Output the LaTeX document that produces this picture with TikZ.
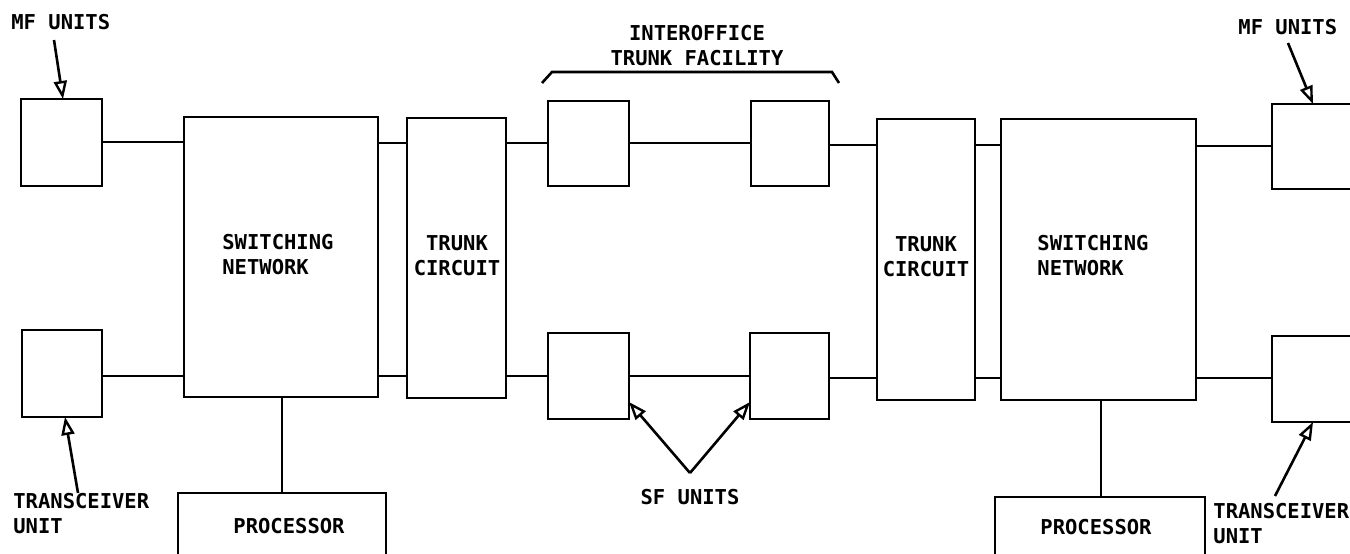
\documentclass[tikz,border=0pt]{standalone}
\usepackage{fontspec}
\newfontfamily\plotfont{DejaVu Sans Mono}
\usetikzlibrary{arrows.meta}
\begin{document}
\begin{tikzpicture}[x=1pt,y=-1pt, line width=2.8pt,
  box/.style={draw, inner sep=0pt, outer sep=0pt, anchor=north west},
  lbl/.style={font=\plotfont\bfseries\fontsize{20.5}{25}\selectfont, inner sep=0pt, align=center},
  lbll/.style={lbl, align=left},
  ptr/.style={-{Triangle[open,length=18pt,width=13pt,line width=2.4pt]}, line width=2.6pt}]
\useasboundingbox (0,0) rectangle (1350,554);
% rows
\coordinate (rowM) at (0,142);
\coordinate (rowA) at (0,143);
\coordinate (rowB) at (0,376);
\coordinate (rowC) at (0,145);
\coordinate (rowD) at (0,378);
% left office
\node[box, minimum width=81pt, minimum height=87pt] (mfL) at (21,99) {};
\node[box, minimum width=80pt, minimum height=87pt] (trL) at (22,330) {};
\node[box, minimum width=194pt, minimum height=280pt] (snL) at (184,117) {};
\node[box, minimum width=99pt, minimum height=280pt] (tcL) at (407,118) {};
\node[box, minimum width=208pt, minimum height=90pt] (prL) at (178,493) {};
% trunk facility SF units
\node[box, minimum width=81pt, minimum height=85pt] (sfA) at (548,101) {};
\node[box, minimum width=78pt, minimum height=85pt] (sfB) at (751,101) {};
\node[box, minimum width=81pt, minimum height=86pt] (sfC) at (548,333) {};
\node[box, minimum width=79pt, minimum height=86pt] (sfD) at (750,333) {};
% right office
\node[box, minimum width=98pt, minimum height=281pt] (tcR) at (877,119) {};
\node[box, minimum width=195pt, minimum height=281pt] (snR) at (1001,119) {};
\node[box, minimum width=100pt, minimum height=85pt] (mfR) at (1272,104) {};
\node[box, minimum width=100pt, minimum height=86pt] (trR) at (1272,336) {};
\node[box, minimum width=210pt, minimum height=90pt] (prR) at (995,497) {};
% texts
\node[lbll, anchor=west] (tSNL) at (221,255) {SWITCHING\\NETWORK};
\node[lbl] (tTCL) at (457,256) {TRUNK\\CIRCUIT};
\node[lbl] (tPRL) at (289,526) {PROCESSOR};
\node[lbl] (tTCR) at (926,257) {TRUNK\\CIRCUIT};
\node[lbll, anchor=west] (tSNR) at (1036,256) {SWITCHING\\NETWORK};
\node[lbl] (tPRR) at (1096,527) {PROCESSOR};
\node[lbl, anchor=west] (tMFL) at (10,22) {MF UNITS};
\node[lbll, anchor=west] (tTRL) at (12,514) {TRANSCEIVER\\UNIT};
\node[lbl] (tIO) at (697,46) {INTEROFFICE\\TRUNK FACILITY};
\node[lbl] (tSF) at (690,497) {SF UNITS};
\node[lbl, anchor=west] (tMFR) at (1237,27) {MF UNITS};
\node[lbll, anchor=west] (tTRR) at (1212,524) {TRANSCEIVER\\UNIT};
% connections
\draw (mfL.east |- rowM) -- (snL.west |- rowM);
\draw (trL.east |- rowB) -- (snL.west |- rowB);
\draw (snL.east |- rowA) -- (tcL.west |- rowA);
\draw (snL.east |- rowB) -- (tcL.west |- rowB);
\draw (tcL.east |- rowA) -- (sfA.west |- rowA);
\draw (sfA.east |- rowA) -- (sfB.west |- rowA);
\draw (sfB.east |- rowC) -- (tcR.west |- rowC);
\draw (tcL.east |- rowB) -- (sfC.west |- rowB);
\draw (sfC.east |- rowB) -- (sfD.west |- rowB);
\draw (sfD.east |- rowD) -- (tcR.west |- rowD);
\draw (tcR.east |- rowC) -- (snR.west |- rowC);
\draw (tcR.east |- rowD) -- (snR.west |- rowD);
\draw (snR.east |- 0,146) -- (mfR.west |- 0,146);
\draw (snR.east |- rowD) -- (trR.west |- rowD);
\draw (snL.south -| 282,0) -- (prL.north -| 282,0);
\draw (snR.south -| 1101,0) -- (prR.north -| 1101,0);
% bracket
\coordinate (brA) at (542,83);
\coordinate (brB) at (552,72);
\coordinate (brC) at (832,72);
\coordinate (brD) at (839,83);
\draw[line width=2.6pt] (brA) -- (brB) -- (brC) -- (brD);
% pointers
\coordinate (pMFL) at (54,40);
\coordinate (pTRL) at (78,493);
\coordinate (pSF) at (690,473);
\coordinate (pMFR) at (1288,43);
\coordinate (pTRR) at (1275,496);
\draw[ptr] (pMFL) -- (mfL.north west -| 63,0);
\draw[ptr] (pTRL) -- (trL.south west -| 65,0);
\draw[ptr] (pSF) -- (sfC.east |- 0,402);
\draw[ptr] (pSF) -- (sfD.west |- 0,402);
\draw[ptr] (pMFR) -- (mfR.north west -| 1313,0);
\draw[ptr] (pTRR) -- (trR.south west -| 1313,0);
\end{tikzpicture}
\end{document}
